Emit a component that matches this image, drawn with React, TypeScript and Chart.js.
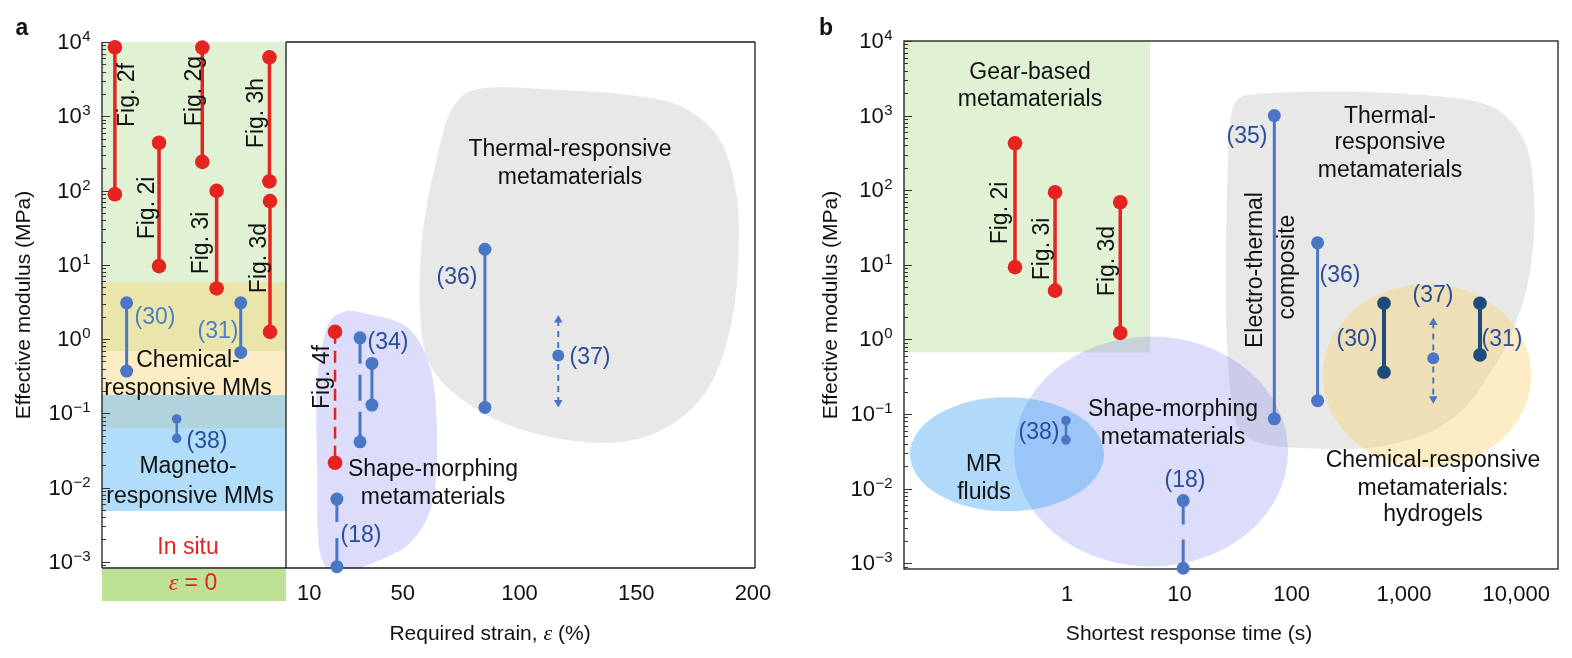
import { useEffect, useRef } from "react";
import { Chart, registerables } from "chart.js";

Chart.register(...registerables);

const W = 1572;
const H = 658;
const HALF = 786;

const FONT = '"Liberation Sans", Arial, Helvetica, sans-serif';
const SERIF = '"Liberation Serif", "Times New Roman", serif';
const INK = "#111111";
const RED = "#e52421";
const BLUE = "#4a76c6";
const DARK_BLUE = "#1f4b7c";
const REF_TEXT = "#2a4c9a";
const REF_TEXT_LIGHT = "#4f7ec6";
const ANNO = 23;
const TICK = 22;

// ================= Panel a data =================
// in-situ (ε = 0) results; x = slot inside the in-situ column (0–100)
const aFigLabels = ["Fig. 2f", "Fig. 2i", "Fig. 2g", "Fig. 3i", "Fig. 3h", "Fig. 3d"];
const aFigSlot = [7, 31, 54.5, 62.3, 91, 91.3];
const aFigHigh = [8500, 440, 8400, 99, 6200, 72];
const aFigLow = [89, 9.6, 243, 4.8, 133, 1.25];

const aRefLabels = ["(30)", "(31)", "(38)"];
const aRefSlot = [13.4, 75.4, 40.6];
const aRefHigh = [3.07, 3.07, 0.084];
const aRefLow = [0.37, 0.66, 0.046];

// strain-driven results
const aStrainLabels = ["Fig. 4f", "(34)", "(34)", "(18)", "(36)"];
const aStrain = [21, 31.7, 36.8, 21.8, 85.2];
const aStrainHigh = [1.25, 1.04, 0.47, 0.007, 16.2];
const aStrainLow = [0.0216, 0.0413, 0.129, 0.00086, 0.12];

const a37Strain = 116.6;
const a37Mid = 0.6;
const a37Range = [1.8, 0.14];

const aStrainTicks = [10, 50, 100, 150, 200];

// ================= Panel b data =================
const bFigLabels = ["Fig. 2i", "Fig. 3i", "Fig. 3d"];
const bFigTime = [0.343, 0.78, 2.97];
const bFigHigh = [425, 94, 69];
const bFigLow = [9.3, 4.5, 1.22];

const bRefLabels = ["(35)", "(36)", "(30)", "(31)", "(38)", "(18)"];
const bRefTime = [70, 170, 664, 4755, 0.976, 10.8];
const bRefHigh = [1000, 19.7, 3.05, 3.05, 0.0817, 0.0069];
const bRefLow = [0.086, 0.151, 0.362, 0.62, 0.045, 0.000855];

const b37Time = 1824;
const b37Mid = 0.558;
const b37Range = [1.68, 0.16];

const bTimeTicks = [1, 10, 100, 1000, 10000];
const bTimeTickLabels = ["1", "10", "100", "1,000", "10,000"];

const modulusDecades = [-3, -2, -1, 0, 1, 2, 3, 4];

// ================= region outlines =================
// panel a, in (strain %, log10 MPa)
const GREY_A = [[71.5, 3.12], [84.4, 3.377], [120.3, 3.35], [148.6, 3.28], [170, 3.12], [185.9, 2.677], [193.1, 1.91], [193.6, 1.02], [190.1, 0.12], [180.3, -0.69], [163.2, -1.186], [141.8, -1.39], [113.1, -1.32], [84.4, -0.998], [63, -0.42], [57.4, 0.35], [58.7, 1.465], [64.7, 2.447]];
const LAV_A = [[24.4, 0.362], [33, 0.35], [51.8, 0.16], [61.7, -0.378], [64.7, -1.266], [63, -2.168], [54.4, -2.706], [40.3, -2.975], [23.1, -3.137], [14.6, -2.881], [13.3, -1.724], [13.3, -0.593], [17.6, 0.16]];
// panel b, in (log10 s, log10 MPa)
const GREY_B = [[1.513, 3.201], [1.744, 3.295], [2.493, 3.322], [3.232, 3.268], [3.677, 3.174], [3.918, 2.973], [4.096, 2.571], [4.158, 1.954], [4.149, 1.231], [4.051, 0.453], [3.811, -0.351], [3.41, -1.088], [2.787, -1.437], [1.985, -1.45], [1.629, -1.33], [1.486, -1.021], [1.423, -0.056], [1.415, 1.19], [1.432, 2.398], [1.45, 2.866]];

const C_GREEN = "rgba(160,215,120,0.33)";
const C_YELLOW = "rgba(250,210,110,0.40)";
const C_BLUEBAND = "rgba(100,185,245,0.5)";
const C_GREY = "rgba(200,200,200,0.42)";
const C_LAV = "rgba(130,130,240,0.28)";
const C_MR = "rgba(80,170,245,0.45)";
const C_EPS = "#bde296";

// ================= helpers =================
function rangeSet(xAxisID: string, x: number, hi: number, lo: number, color: string, o: any = {}) {
  return {
    xAxisID,
    yAxisID: "y",
    data: [{ x, y: hi }, { x, y: lo }],
    showLine: true,
    borderColor: color,
    backgroundColor: color,
    pointBackgroundColor: color,
    pointBorderColor: color,
    pointBorderWidth: 0,
    pointRadius: o.r ?? 6.5,
    pointHoverRadius: o.r ?? 6.5,
    borderWidth: o.w ?? 3,
    borderDash: o.dash ?? [],
    clip: false,
  };
}

function arrowSet(xAxisID: string, x: number, hi: number, mid: number, lo: number, color: string) {
  return {
    xAxisID,
    yAxisID: "y",
    data: [{ x, y: hi }, { x, y: mid }, { x, y: lo }],
    showLine: true,
    borderColor: color,
    backgroundColor: color,
    pointBackgroundColor: color,
    pointBorderColor: color,
    pointBorderWidth: 0,
    pointStyle: ["triangle", "circle", "triangle"],
    pointRotation: [0, 0, 180],
    pointRadius: [5, 6, 5],
    pointHoverRadius: [5, 6, 5],
    borderWidth: 2,
    borderDash: [6, 5],
    clip: false,
  };
}

function smoothClosed(ctx: CanvasRenderingContext2D, pts: number[][]) {
  const n = pts.length;
  ctx.beginPath();
  ctx.moveTo(pts[0][0], pts[0][1]);
  for (let i = 0; i < n; i++) {
    const p0 = pts[(i - 1 + n) % n];
    const p1 = pts[i];
    const p2 = pts[(i + 1) % n];
    const p3 = pts[(i + 2) % n];
    const t = 1 / 6;
    ctx.bezierCurveTo(
      p1[0] + (p2[0] - p0[0]) * t, p1[1] + (p2[1] - p0[1]) * t,
      p2[0] - (p3[0] - p1[0]) * t, p2[1] - (p3[1] - p1[1]) * t,
      p2[0], p2[1]
    );
  }
  ctx.closePath();
}

function txt(ctx: CanvasRenderingContext2D, s: string, x: number, y: number, o: any = {}) {
  ctx.save();
  ctx.translate(x, y);
  if (o.rot) ctx.rotate(-Math.PI / 2);
  ctx.font = `${o.weight ?? "normal"} ${o.size ?? ANNO}px ${o.family ?? FONT}`;
  ctx.fillStyle = o.color ?? INK;
  ctx.textAlign = o.align ?? "center";
  ctx.textBaseline = "middle";
  ctx.fillText(s, 0, 0);
  ctx.restore();
}

// text with italic-serif epsilon parts
function mixed(ctx: CanvasRenderingContext2D, parts: [string, boolean][], cx: number, cy: number, color: string, size: number) {
  ctx.save();
  ctx.translate(cx, cy);
  const fontOf = (it: boolean) => (it ? `italic ${size + 1}px ${SERIF}` : `${size}px ${FONT}`);
  let total = 0;
  for (const [s, it] of parts) {
    ctx.font = fontOf(it);
    total += ctx.measureText(s).width;
  }
  let x = -total / 2;
  ctx.fillStyle = color;
  ctx.textAlign = "left";
  ctx.textBaseline = "middle";
  for (const [s, it] of parts) {
    ctx.font = fontOf(it);
    ctx.fillText(s, x, 0);
    x += ctx.measureText(s).width;
  }
  ctx.restore();
}

function drawLogY(chart: any, labelRight: number) {
  const ctx: CanvasRenderingContext2D = chart.ctx;
  const y = chart.scales.y;
  const a = chart.chartArea;
  ctx.save();
  ctx.strokeStyle = "#333";
  ctx.lineWidth = 1;
  const lo = Math.floor(Math.log10(y.min));
  const hi = Math.ceil(Math.log10(y.max));
  ctx.beginPath();
  for (let e = lo; e <= hi; e++) {
    for (let m = 1; m <= 9; m++) {
      const v = m * Math.pow(10, e);
      if (v < y.min || v > y.max * 1.0001) continue;
      const py = Math.round(y.getPixelForValue(v)) + 0.5;
      ctx.moveTo(a.left, py);
      ctx.lineTo(a.left + (m === 1 ? 8 : 4), py);
    }
  }
  ctx.stroke();
  for (const e of modulusDecades) {
    const py = y.getPixelForValue(Math.pow(10, e));
    const exp = e < 0 ? "\u2212" + -e : String(e);
    ctx.font = `${TICK}px ${FONT}`;
    const w10 = ctx.measureText("10").width;
    ctx.font = `15px ${FONT}`;
    const we = ctx.measureText(exp).width;
    const x0 = labelRight - we - w10;
    ctx.fillStyle = INK;
    ctx.textAlign = "left";
    ctx.font = `${TICK}px ${FONT}`;
    ctx.textBaseline = "middle";
    ctx.fillText("10", x0, py + 1);
    ctx.font = `15px ${FONT}`;
    ctx.textBaseline = "alphabetic";
    ctx.fillText(exp, x0 + w10 + 0.5, py - 1);
  }
  ctx.restore();
}

function line(ctx: CanvasRenderingContext2D, x1: number, y1: number, x2: number, y2: number) {
  ctx.beginPath();
  ctx.moveTo(x1, y1);
  ctx.lineTo(x2, y2);
  ctx.stroke();
}

// ================= panel a =================
const textA: any[] = [
  ["Fig. 2f", 128, 95, { rot: true }],
  ["Fig. 2i", 148, 208, { rot: true }],
  ["Fig. 2g", 195, 91, { rot: true }],
  ["Fig. 3i", 202, 243, { rot: true }],
  ["Fig. 3h", 257, 113, { rot: true }],
  ["Fig. 3d", 260, 258, { rot: true }],
  ["Fig. 4f", 323, 377, { rot: true }],
  ["(30)", 155, 318, { color: REF_TEXT_LIGHT }],
  ["(31)", 218, 332, { color: REF_TEXT_LIGHT }],
  ["Chemical-", 188, 361, {}],
  ["responsive MMs", 188, 389, {}],
  ["(38)", 207, 442, { color: REF_TEXT }],
  ["Magneto-", 188, 467, {}],
  ["responsive MMs", 190, 497, {}],
  ["In situ", 188, 548, { color: RED }],
  ["(34)", 388, 343, { color: REF_TEXT }],
  ["Shape-morphing", 433, 470, {}],
  ["metamaterials", 433, 498, {}],
  ["(18)", 361, 536, { color: REF_TEXT }],
  ["(36)", 457, 278, { color: REF_TEXT }],
  ["(37)", 590, 358, { color: REF_TEXT }],
  ["Thermal-responsive", 570, 150, {}],
  ["metamaterials", 570, 178, {}],
];

const panelAPlugin = {
  id: "panelA",
  beforeDatasetsDraw(chart: any) {
    const ctx: CanvasRenderingContext2D = chart.ctx;
    const a = chart.chartArea;
    const { xs, x, y } = chart.scales;
    const L = xs.getPixelForValue(0);
    const R = xs.getPixelForValue(100);
    ctx.save();
    ctx.beginPath();
    ctx.rect(a.left, a.top, a.right - a.left, a.bottom - a.top);
    ctx.clip();
    const band = (top: number, bot: number, color: string) => {
      const t = y.getPixelForValue(top);
      const b = y.getPixelForValue(bot);
      ctx.fillStyle = color;
      ctx.fillRect(L, t, R - L, b - t);
    };
    band(y.max, 0.687, C_GREEN);
    band(5.83, 0.063, C_YELLOW);
    band(0.176, 0.00483, C_BLUEBAND);
    const toPx = (p: number[]) => [x.getPixelForValue(p[0]), y.getPixelForValue(Math.pow(10, p[1]))];
    smoothClosed(ctx, GREY_A.map(toPx));
    ctx.fillStyle = C_GREY;
    ctx.fill();
    smoothClosed(ctx, LAV_A.map(toPx));
    ctx.fillStyle = C_LAV;
    ctx.fill();
    ctx.restore();

    // ε = 0 strip under the in-situ column
    ctx.fillStyle = C_EPS;
    ctx.fillRect(L, a.bottom + 1, R - L, 32);

    // frame
    ctx.save();
    ctx.strokeStyle = "#1a1a1a";
    ctx.lineWidth = 1.3;
    const split = x.getPixelForValue(0);
    line(ctx, a.left, a.top, a.left, a.bottom);
    line(ctx, a.left, a.bottom, a.right, a.bottom);
    line(ctx, split, a.top, split, a.bottom);
    line(ctx, split, a.top, a.right, a.top);
    line(ctx, a.right, a.top, a.right, a.bottom);
    ctx.restore();

    drawLogY(chart, a.left - 12);
  },
  afterDatasetsDraw(chart: any) {
    const ctx: CanvasRenderingContext2D = chart.ctx;
    for (const [s, px, py, o] of textA) txt(ctx, s, px, py, o);
    mixed(ctx, [["\u03b5", true], [" = 0", false]], 193, 584, RED, ANNO);
    mixed(ctx, [["Required strain, ", false], ["\u03b5", true], [" (%)", false]], 490, 634, INK, 21);
    txt(ctx, "Effective modulus (MPa)", 24, 305, { rot: true, size: 21 });
    txt(ctx, "a", 22, 29, { weight: "bold", size: 23 });
  },
};

function configA(): any {
  const datasets: any[] = [];
  aFigLabels.forEach((_, i) => datasets.push(rangeSet("xs", aFigSlot[i], aFigHigh[i], aFigLow[i], RED, { r: 7.3, w: 3.5 })));
  aRefLabels.forEach((lbl, i) =>
    datasets.push(
      rangeSet("xs", aRefSlot[i], aRefHigh[i], aRefLow[i], BLUE, lbl === "(38)" ? { r: 4.8, w: 2.5 } : {})
    )
  );
  const strainStyles: any[] = [
    { r: 7.3, w: 2.5, dash: [12, 7] },
    { dash: [26, 11] },
    {},
    { dash: [23, 16] },
    {},
  ];
  aStrainLabels.forEach((_, i) =>
    datasets.push(rangeSet("x", aStrain[i], aStrainHigh[i], aStrainLow[i], i === 0 ? RED : BLUE, strainStyles[i]))
  );
  datasets.push(arrowSet("x", a37Strain, a37Range[0], a37Mid, a37Range[1], BLUE));

  return {
    type: "scatter",
    data: { datasets },
    options: {
      animation: false,
      responsive: false,
      maintainAspectRatio: false,
      events: [],
      layout: { padding: { top: 42, right: 31, left: 0, bottom: 0 } },
      plugins: { legend: { display: false }, tooltip: { enabled: false } },
      scales: {
        xs: {
          type: "linear",
          position: "bottom",
          stack: "strain",
          stackWeight: 184,
          min: 0,
          max: 100,
          grid: { display: false, drawTicks: false },
          border: { display: false },
          ticks: { display: false },
          afterFit: (s: any) => { s.height = 90; },
        },
        x: {
          type: "linear",
          position: "bottom",
          stack: "strain",
          stackWeight: 469,
          min: 0,
          max: 200.86,
          grid: { display: false, drawTicks: false },
          border: { display: false },
          afterBuildTicks: (s: any) => { s.ticks = aStrainTicks.map((v) => ({ value: v })); },
          ticks: {
            autoSkip: false,
            maxRotation: 0,
            padding: 13,
            color: INK,
            font: { family: FONT, size: TICK },
            callback: (v: any) => String(v),
          },
          afterFit: (s: any) => { s.height = 90; },
        },
        y: {
          type: "logarithmic",
          position: "left",
          min: Math.pow(10, -3.083),
          max: 1e4,
          grid: { display: false, drawTicks: false },
          border: { display: false },
          ticks: { display: false },
          afterFit: (s: any) => { s.width = 102; },
        },
      },
    },
    plugins: [panelAPlugin],
  };
}

// ================= panel b =================
const textB: any[] = [
  ["Gear-based", 1030, 73, {}],
  ["metamaterials", 1030, 100, {}],
  ["Fig. 2i", 1001, 213, { rot: true }],
  ["Fig. 3i", 1043, 249, { rot: true }],
  ["Fig. 3d", 1108, 261, { rot: true }],
  ["(38)", 1039, 433, { color: REF_TEXT }],
  ["MR", 984, 465, {}],
  ["fluids", 984, 493, {}],
  ["Shape-morphing", 1173, 410, {}],
  ["metamaterials", 1173, 438, {}],
  ["(18)", 1185, 481, { color: REF_TEXT }],
  ["(35)", 1247, 137, { color: REF_TEXT }],
  ["Thermal-", 1390, 117, {}],
  ["responsive", 1390, 143, {}],
  ["metamaterials", 1390, 171, {}],
  ["Electro-thermal", 1256, 270, { rot: true }],
  ["composite", 1288, 267, { rot: true }],
  ["(36)", 1340, 276, { color: REF_TEXT }],
  ["(37)", 1433, 296, { color: REF_TEXT }],
  ["(30)", 1357, 340, { color: REF_TEXT }],
  ["(31)", 1502, 340, { color: REF_TEXT }],
  ["Chemical-responsive", 1433, 461, {}],
  ["metamaterials:", 1433, 489, {}],
  ["hydrogels", 1433, 515, {}],
];

const panelBPlugin = {
  id: "panelB",
  beforeDatasetsDraw(chart: any) {
    const ctx: CanvasRenderingContext2D = chart.ctx;
    const a = chart.chartArea;
    const { x, y } = chart.scales;
    const X = (l: number) => x.getPixelForValue(Math.pow(10, l));
    const Y = (l: number) => y.getPixelForValue(Math.pow(10, l));
    ctx.save();
    ctx.beginPath();
    ctx.rect(a.left, a.top, a.right - a.left, a.bottom - a.top);
    ctx.clip();
    // gear-based block
    ctx.fillStyle = C_GREEN;
    const gx = X(Math.log10(5.47));
    const gy = y.getPixelForValue(0.67);
    ctx.fillRect(a.left, a.top, gx - a.left, gy - a.top);
    // thermal blob
    smoothClosed(ctx, GREY_B.map((p) => [X(p[0]), Y(p[1])]));
    ctx.fillStyle = C_GREY;
    ctx.fill();
    const ell = (cx: number, cy: number, rx: number, ry: number, color: string) => {
      const px = X(cx);
      const py = Y(cy);
      ctx.beginPath();
      ctx.ellipse(px, py, Math.abs(X(cx + rx) - px), Math.abs(Y(cy + ry) - py), 0, 0, Math.PI * 2);
      ctx.fillStyle = color;
      ctx.fill();
    };
    ell(0.7465, -1.504, 1.2204, 1.5416, C_LAV);
    ell(-0.536, -1.54, 0.864, 0.764, C_MR);
    ell(3.205, -0.485, 0.929, 1.229, C_YELLOW);
    ctx.restore();

    ctx.save();
    ctx.strokeStyle = "#1a1a1a";
    ctx.lineWidth = 1.3;
    ctx.strokeRect(a.left, a.top, a.right - a.left, a.bottom - a.top);
    ctx.restore();

    drawLogY(chart, a.left - 12);
  },
  afterDatasetsDraw(chart: any) {
    const ctx: CanvasRenderingContext2D = chart.ctx;
    for (const [s, px, py, o] of textB) txt(ctx, s, px - HALF, py, o);
    txt(ctx, "Shortest response time (s)", 1189 - HALF, 634, { size: 21 });
    txt(ctx, "Effective modulus (MPa)", 831 - HALF, 305, { rot: true, size: 21 });
    txt(ctx, "b", 826 - HALF, 29, { weight: "bold", size: 23 });
  },
};

function configB(): any {
  const datasets: any[] = [];
  bFigLabels.forEach((_, i) => datasets.push(rangeSet("x", bFigTime[i], bFigHigh[i], bFigLow[i], RED, { r: 7.3, w: 3.5 })));
  bRefLabels.forEach((lbl, i) => {
    let style: any = {};
    let color = BLUE;
    if (lbl === "(30)" || lbl === "(31)") { color = DARK_BLUE; style = { r: 6.8, w: 4 }; }
    if (lbl === "(38)") style = { r: 4.8, w: 2.5 };
    if (lbl === "(18)") style = { dash: [24, 15] };
    datasets.push(rangeSet("x", bRefTime[i], bRefHigh[i], bRefLow[i], color, style));
  });
  datasets.push(arrowSet("x", b37Time, b37Range[0], b37Mid, b37Range[1], BLUE));

  return {
    type: "scatter",
    data: { datasets },
    options: {
      animation: false,
      responsive: false,
      maintainAspectRatio: false,
      events: [],
      layout: { padding: { top: 41, right: 14, left: 0, bottom: 0 } },
      plugins: { legend: { display: false }, tooltip: { enabled: false } },
      scales: {
        x: {
          type: "logarithmic",
          position: "bottom",
          min: 0.0352,
          max: 23550,
          grid: { display: false, drawTicks: false },
          border: { display: false },
          afterBuildTicks: (s: any) => { s.ticks = bTimeTicks.map((v) => ({ value: v })); },
          ticks: {
            autoSkip: false,
            maxRotation: 0,
            padding: 13,
            color: INK,
            font: { family: FONT, size: TICK },
            callback: (_v: any, i: number) => bTimeTickLabels[i],
          },
          afterFit: (s: any) => { s.height = 89; },
        },
        y: {
          type: "logarithmic",
          position: "left",
          min: Math.pow(10, -3.078),
          max: 1e4,
          grid: { display: false, drawTicks: false },
          border: { display: false },
          ticks: { display: false },
          afterFit: (s: any) => { s.width = 118; },
        },
      },
    },
    plugins: [panelBPlugin],
  };
}

export default function App() {
  const refA = useRef<HTMLCanvasElement>(null);
  const refB = useRef<HTMLCanvasElement>(null);
  useEffect(() => {
    document.body.style.margin = "0";
    const ca = new Chart(refA.current as HTMLCanvasElement, configA());
    const cb = new Chart(refB.current as HTMLCanvasElement, configB());
    return () => {
      ca.destroy();
      cb.destroy();
    };
  }, []);
  return (
    <div style={{ position: "relative", width: W, height: H, background: "#fff", overflow: "hidden" }}>
      <canvas ref={refA} width={HALF} height={H} style={{ position: "absolute", left: 0, top: 0, width: HALF, height: H }} />
      <canvas ref={refB} width={HALF} height={H} style={{ position: "absolute", left: HALF, top: 0, width: HALF, height: H }} />
    </div>
  );
}
